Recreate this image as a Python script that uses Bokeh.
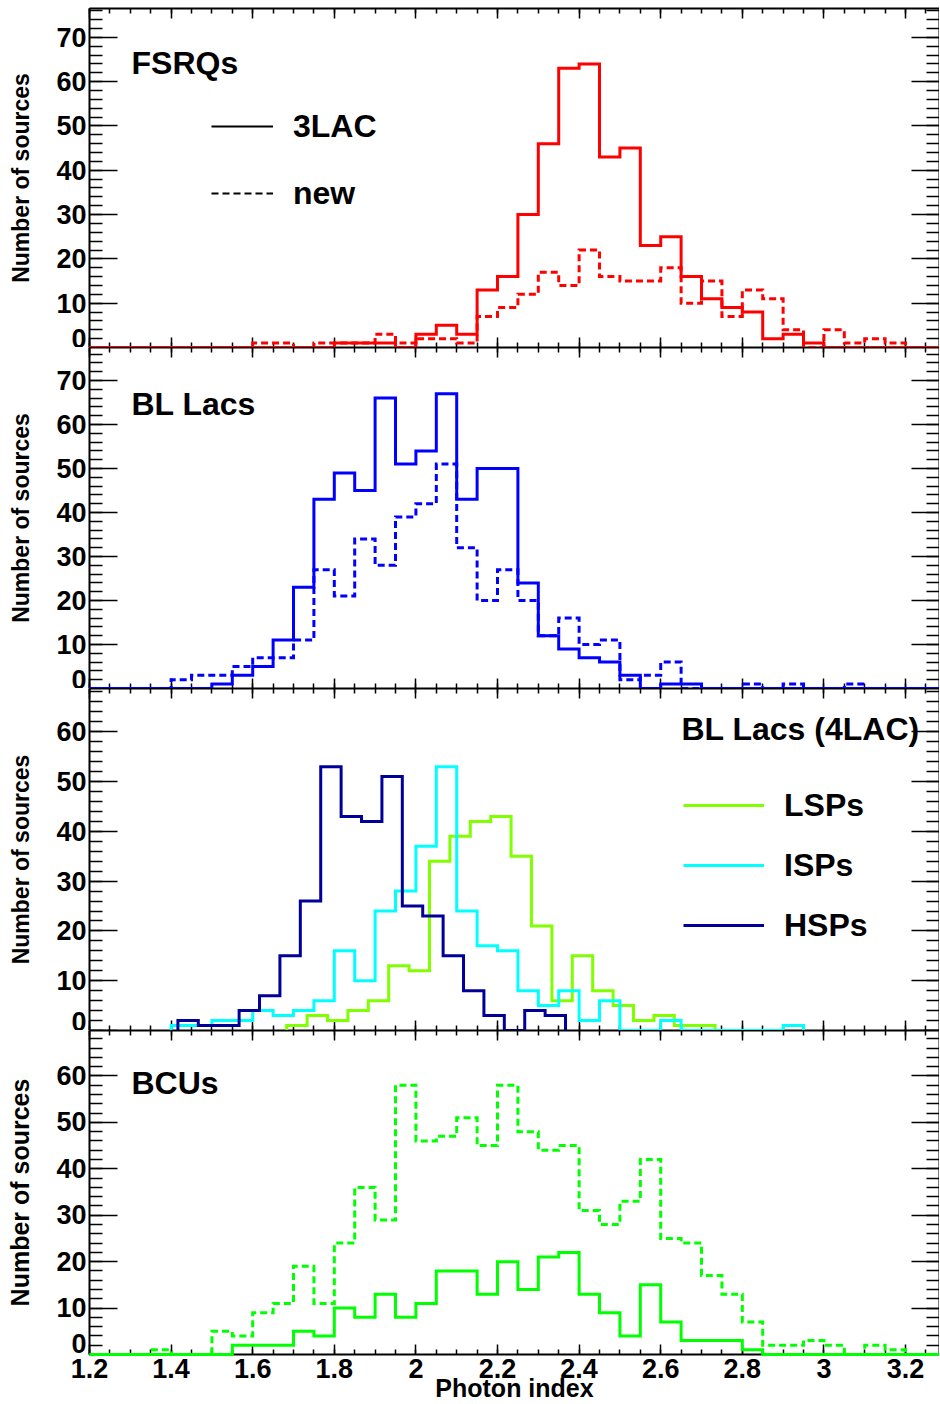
import numpy as np
from bokeh.plotting import figure
from bokeh.layouts import column
from bokeh.models import LinearAxis, FixedTicker, Range1d, Label, Legend, LegendItem
from bokeh.embed import file_html
from bokeh.resources import INLINE

# ---------------- data ----------------
BIN_WIDTH = 0.05
X_MIN, X_MAX = 1.2, 3.2833

x_tick_values = [1.2, 1.4, 1.6, 1.8, 2.0, 2.2, 2.4, 2.6, 2.8, 3.0, 3.2]
x_tick_labels = ["1.2", "1.4", "1.6", "1.8", "2", "2.2", "2.4", "2.6", "2.8", "3", "3.2"]
y_tick_values = [0, 10, 20, 30, 40, 50, 60, 70]

# FSRQs (bins of 0.05 starting at 1.20)
fsrq_start = 1.2
fsrq_3lac = [0, 0, 0, 0, 0, 0, 0, 0, 0, 0, 0, 0, 1, 1, 1, 0, 3, 5, 3, 13, 16, 30, 46, 63, 64,
             43, 45, 23, 25, 16, 11, 9, 8, 2, 3, 1, 0, 0, 0, 0, 0, 0]
fsrq_new = [0, 0, 0, 0, 0, 0, 0, 0, 1, 1, 0, 1, 1, 1, 3, 1, 2, 2, 1, 7, 9, 12, 17, 14, 22,
            16, 15, 15, 18, 10, 15, 7, 13, 11, 4, 0, 4, 1, 2, 1, 0, 0]

# BL Lacs
bll_start = 1.2
bll_3lac = [0, 0, 0, 0, 0, 0, 1, 3, 5, 11, 23, 43, 49, 45, 66, 51, 54, 67, 43, 50, 50, 24, 12,
            9, 7, 6, 3, 0, 1, 1, 0, 0, 0, 0, 0, 0, 0, 0, 0, 0, 0, 0]
bll_new = [0, 0, 0, 0, 2, 3, 3, 5, 7, 7, 11, 27, 21, 34, 28, 39, 42, 51, 32, 20, 27, 20, 12,
           16, 10, 11, 2, 3, 6, 0, 0, 0, 1, 0, 1, 0, 0, 1, 0, 0, 0, 0]

# BL Lacs (4LAC) sub-classes
lsp_start = 1.6833
lsp_counts = [1, 3, 2, 4, 6, 13, 12, 34, 39, 42, 43, 35, 21, 6, 15, 8, 5, 2, 3, 1, 1]
isp_start = 1.4
isp_counts = [1, 1, 2, 2, 4, 3, 4, 6, 16, 10, 24, 28, 37, 53, 24, 17, 16, 8, 5, 8, 2, 6, 0, 0,
              2, 0, 0, 0, 0, 0, 1]
hsp_start = 1.4167
hsp_counts = [2, 1, 1, 4, 7, 15, 26, 53, 43, 42, 51, 25, 23, 15, 8, 3, 0, 4, 3]

# BCUs
bcu_start = 1.2
bcu_3lac = [0, 0, 0, 0, 0, 0, 0, 2, 2, 2, 5, 4, 10, 8, 13, 8, 11, 18, 18, 13, 20, 14, 21, 22,
            13, 9, 4, 15, 7, 3, 3, 3, 1, 0, 0, 0, 0, 0, 0, 0, 0, 0]
bcu_new = [0, 0, 0, 1, 0, 0, 5, 4, 9, 11, 19, 11, 24, 36, 29, 58, 46, 47, 51, 45, 58, 48, 44,
           45, 31, 28, 33, 42, 25, 24, 17, 13, 7, 2, 2, 3, 2, 0, 2, 1, 0, 0]

# ---------------- styling ----------------
FONT = "Liberation Sans"
FRAME_W = 850
LEFT_BORDER = 89
DASH = "7 4"


def step_xy(start, counts):
    edges = start + BIN_WIDTH * np.arange(len(counts) + 1)
    xs = np.concatenate([[edges[0]], edges])
    ys = np.concatenate([[0], np.asarray(counts, dtype=float), [0]])
    return xs, ys


def style_axis(ax, ticker, tick_in, minor_in, show_labels, label_size="27px"):
    ax.ticker = ticker
    ax.axis_line_color = "black"
    ax.axis_line_width = 2
    ax.major_tick_in = tick_in
    ax.major_tick_out = 0
    ax.minor_tick_in = minor_in
    ax.minor_tick_out = 0
    ax.major_tick_line_color = "black"
    ax.minor_tick_line_color = "black"
    ax.major_tick_line_width = 1.5
    ax.minor_tick_line_width = 1.5
    if show_labels:
        ax.major_label_text_font = FONT
        ax.major_label_text_font_style = "bold"
        ax.major_label_text_font_size = label_size
        ax.major_label_text_color = "black"
        ax.major_label_standoff = 3
    else:
        ax.major_label_text_font_size = "0px"
        ax.major_label_standoff = 0


def x_ticker():
    minor = [round(v, 3) for v in np.arange(X_MIN, X_MAX, BIN_WIDTH)]
    return FixedTicker(ticks=x_tick_values, minor_ticks=minor)


def y_ticker():
    return FixedTicker(ticks=y_tick_values, minor_ticks=list(range(0, 80, 2)))


def make_panel(frame_h, y_max, bottom_labels, top_border=0, ytitle_size="23px"):
    p = figure(frame_width=FRAME_W, frame_height=frame_h,
               x_range=Range1d(X_MIN, X_MAX), y_range=Range1d(0, y_max),
               x_axis_type=None, y_axis_type=None,
               output_backend="svg", toolbar_location=None,
               min_border_left=LEFT_BORDER, min_border_right=0,
               min_border_top=top_border, min_border_bottom=0)
    p.outline_line_color = None
    p.background_fill_color = "white"
    p.border_fill_color = "white"

    # left axis with labels; the "0" label sits just above the frame edge
    yl = LinearAxis()
    style_axis(yl, y_ticker(), 28, 13, True)
    yl.major_label_text_line_height = 0.67
    if bottom_labels:
        yl.major_label_overrides = {0: "0\n "}
    yl.axis_label = "Number of sources"
    yl.axis_label_text_font = FONT
    yl.axis_label_text_font_style = "bold"
    yl.axis_label_text_font_size = ytitle_size
    yl.axis_label_text_color = "black"
    yl.axis_label_standoff = 19
    p.add_layout(yl, "left")

    yr = LinearAxis()
    style_axis(yr, y_ticker(), 28, 13, False)
    p.add_layout(yr, "right")

    xb = LinearAxis()
    style_axis(xb, x_ticker(), 10, 5, bottom_labels)
    if bottom_labels:
        xb.major_label_overrides = dict(zip(x_tick_values, x_tick_labels))
        xb.major_label_standoff = 4
        xb.axis_label = "Photon index"
        xb.axis_label_text_font = FONT
        xb.axis_label_text_font_style = "bold"
        xb.axis_label_text_font_size = "25px"
        xb.axis_label_text_color = "black"
        xb.axis_label_standoff = -7
    p.add_layout(xb, "below")

    xt = LinearAxis()
    style_axis(xt, x_ticker(), 10, 5, False)
    p.add_layout(xt, "above")
    return p


def add_title(p, text, x_px, y_px):
    p.add_layout(Label(x=x_px, y=y_px, x_units="screen", y_units="screen", text=text,
                       text_align="left", text_baseline="alphabetic",
                       text_font=FONT, text_font_style="bold",
                       text_font_size="32px", text_color="black"))


def step(p, start, counts, color, dash="solid", width=3):
    xs, ys = step_xy(start, counts)
    return p.step(xs, ys, mode="after", line_color=color, line_width=width,
                  line_dash=dash, line_join="miter", level="overlay")


def legend(p, items, glyph_w, spacing, loc):
    lg = Legend(items=items, location=loc, orientation="vertical",
                glyph_width=glyph_w, glyph_height=40, label_height=40,
                label_standoff=20, spacing=spacing, padding=0, margin=0,
                border_line_alpha=0, background_fill_alpha=0,
                label_text_font=FONT, label_text_font_style="bold",
                label_text_font_size="32px", label_text_color="black")
    p.add_layout(lg, "center")


# Panel 1: FSRQs
p1 = make_panel(339, 76.5, False, top_border=8)
step(p1, fsrq_start, fsrq_3lac, "#ff0000")
step(p1, fsrq_start, fsrq_new, "#ff0000", DASH)
add_title(p1, "FSRQs", 42, 285)
# legend key lines (black), placed outside the visible y range
d1 = p1.line(x=[X_MIN, X_MAX], y=[-50, -50], line_color="black", line_width=2)
d2 = p1.line(x=[X_MIN, X_MAX], y=[-50, -50], line_color="black", line_width=2,
             line_dash="7 4")
legend(p1, [LegendItem(label="3LAC", renderers=[d1]), LegendItem(label="new", renderers=[d2])],
       62, 27, (122, 134))

# Panel 2: BL Lacs
p2 = make_panel(341, 77.5, False)
step(p2, bll_start, bll_3lac, "#0000ff")
step(p2, bll_start, bll_new, "#0000ff", DASH)
add_title(p2, "BL Lacs", 42, 285)

# Panel 3: BL Lacs (4LAC)
p3 = make_panel(342, 68.7, False)
r_lsp = step(p3, lsp_start, lsp_counts, "#80ff00")
r_isp = step(p3, isp_start, isp_counts, "#00ffff")
r_hsp = step(p3, hsp_start, hsp_counts, "#000099")
add_title(p3, "BL Lacs (4LAC)", 592, 302)
legend(p3, [LegendItem(label="LSPs", renderers=[r_lsp]),
            LegendItem(label="ISPs", renderers=[r_isp]),
            LegendItem(label="HSPs", renderers=[r_hsp])],
       81, 20, (594, 85))

# Panel 4: BCUs
p4 = make_panel(324, 69.8, True, ytitle_size="25px")
step(p4, bcu_start, bcu_3lac, "#00ff00")
step(p4, bcu_start, bcu_new, "#00ff00", DASH)
add_title(p4, "BCUs", 42, 272)

layout = column(p1, p2, p3, p4, spacing=0)
open("out.html", "w").write(file_html(layout, INLINE))
